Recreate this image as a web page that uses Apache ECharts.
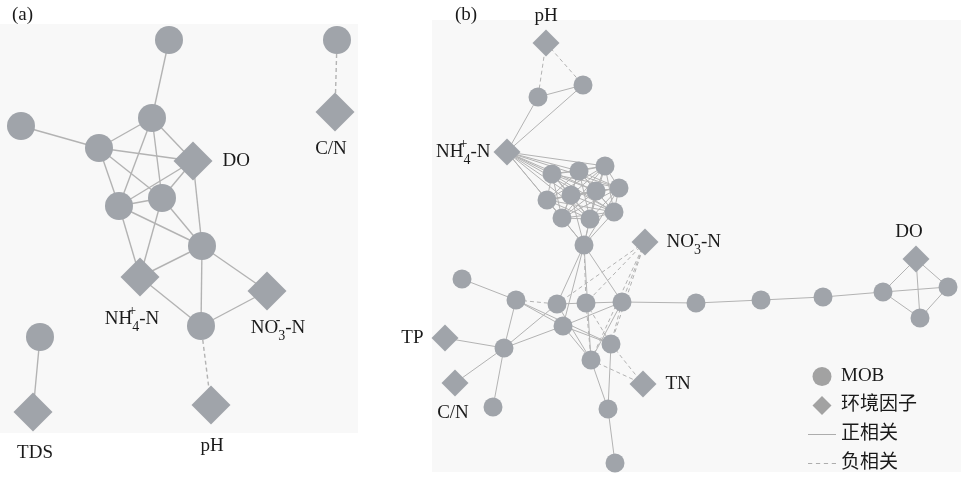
<!DOCTYPE html>
<html>
<head>
<meta charset="utf-8">
<script src="https://cdn.jsdelivr.net/npm/echarts@6/dist/echarts.min.js"></script>
<style>html,body{margin:0;padding:0;background:#fff}#c{width:961px;height:478px}</style>
</head>
<body>
<div id="c"></div>
<script>
// ---------- DATA ----------
// Panel (a) nodes: [name, x, y, kind]
const nodesA = [
  ['a1',169,40,'mob'],['a2',152,118,'mob'],['a3',21,126,'mob'],['a4',99,148,'mob'],
  ['DO',193,161,'env'],['a5',119,206,'mob'],['a6',162,198,'mob'],['a7',202,246,'mob'],
  ['NH4+-N',140,277,'env'],['NO3--N',267,291,'env'],['a8',201,326,'mob'],['pH',211,405,'env'],
  ['a9',40,337,'mob'],['TDS',33,412,'env'],['a10',337,40,'mob'],['C/N',335,112,'env']
];
// Panel (a) links: [source, target, sign]  (1 positive, -1 negative)
const linksA = [
  ['a1','a2',1],['a3','a4',1],['a4','a2',1],['a4','DO',1],['a4','a5',1],['a4','a6',1],
  ['a2','DO',1],['a2','a5',1],['a2','a6',1],['DO','a5',1],['DO','a6',1],['DO','a7',1],
  ['a5','a6',1],['a5','a7',1],['a6','a7',1],['a5','NH4+-N',1],['a6','NH4+-N',1],
  ['a7','NH4+-N',1],['a7','NO3--N',1],['a7','a8',1],['NH4+-N','a8',1],['NO3--N','a8',1],
  ['a8','pH',-1],['a9','TDS',1],['a10','C/N',-1]
];
// Panel (b) nodes
const nodesB = [
  ['pH',546,43,'env'],['b1',538,97,'mob'],['b2',583,85,'mob'],['NH4+-N',507,152,'env'],
  ['c1',552,174,'mob'],['c2',579,171,'mob'],['c3',605,166,'mob'],['c4',619,188,'mob'],
  ['c5',596,191,'mob'],['c6',571,195,'mob'],['c7',547,200,'mob'],['c8',562,218,'mob'],
  ['c9',590,219,'mob'],['c10',614,212,'mob'],['c11',584,245,'mob'],['NO3--N',645,242,'env'],
  ['d1',462,279,'mob'],['d2',516,300,'mob'],['d3',557,304,'mob'],['d4',586,303,'mob'],
  ['d5',622,302,'mob'],['d6',696,303,'mob'],['d7',563,326,'mob'],['TP',445,338,'env'],
  ['d8',504,348,'mob'],['d9',611,344,'mob'],['d10',591,360,'mob'],['C/N',455,383,'env'],
  ['TN',643,384,'env'],['d11',493,407,'mob'],['d12',608,409,'mob'],['d13',615,463,'mob'],
  ['e1',761,300,'mob'],['e2',823,297,'mob'],['e3',883,292,'mob'],['DO',916,259,'env'],
  ['e4',948,287,'mob'],['e5',920,318,'mob']
];
const clusterB = ['c1','c2','c3','c4','c5','c6','c7','c8','c9','c10'];
const linksB = [
  ['pH','b1',-1],['pH','b2',-1],['b1','b2',1],['b1','NH4+-N',1],['b2','NH4+-N',1],
  ['c11','c4',1],['c11','c5',1],['c11','c6',1],['c11','c7',1],['c11','c8',1],['c11','c9',1],['c11','c10',1],
  ['c11','d3',1],['c11','d7',1],['c11','d4',-1],['c11','d5',1],['c11','d10',1],
  ['NO3--N','d3',-1],['NO3--N','d4',-1],['NO3--N','d5',-1],['NO3--N','d9',-1],['NO3--N','d10',-1],
  ['d1','d2',1],['d2','d3',-1],['d2','d7',1],['d2','d8',1],['d2','d9',1],
  ['d3','d4',1],['d4','d5',1],['d3','d8',1],['d3','d10',1],['d7','d8',1],['d7','d5',1],
  ['d7','d10',1],['d7','d9',1],['d4','d9',-1],['d4','d10',-1],['d5','d10',1],['d5','d9',-1],
  ['d9','TN',-1],['d10','TN',-1],['d10','d12',1],['d9','d12',1],['d12','d13',1],
  ['d5','d6',1],['d6','e1',1],['e1','e2',1],['e2','e3',1],['e3','e4',1],['e3','DO',1],
  ['e3','e5',1],['DO','e4',1],['DO','e5',1],['e4','e5',1],
  ['d8','d11',1],['d8','TP',1],['d8','C/N',1]
];
// NH4 links to every cluster node, cluster fully connected
clusterB.forEach(c => linksB.push(['NH4+-N', c, 1]));
for (let i = 0; i < clusterB.length; i++)
  for (let j = i + 1; j < clusterB.length; j++) linksB.push([clusterB[i], clusterB[j], 1]);

const legendNames = ['MOB', '环境因子', '正相关', '负相关'];

// ---------- STYLE ----------
const NODE = '#a0a4aa', EDGE = '#b3b3b3', SERIF = '"Liberation Serif","Times New Roman",serif';
const labelA = {
  'DO': {position:'right', distance:10, offset:[0,0]},
  'NH4+-N': {position:'bottom', distance:8, offset:[-8,0]},
  'NO3--N': {position:'bottom', distance:3, offset:[11,0]},
  'pH': {position:'bottom', distance:11, offset:[1,0]},
  'TDS': {position:'bottom', distance:11, offset:[2,0]},
  'C/N': {position:'bottom', distance:7, offset:[-4,0]}
};
const labelB = {
  'pH': {position:'top', distance:2, offset:[0,0]},
  'NH4+-N': {position:'left', distance:3, offset:[0,0]},
  'NO3--N': {position:'right', distance:8, offset:[0,0]},
  'TP': {position:'left', distance:8, offset:[0,0]},
  'C/N': {position:'bottom', distance:6, offset:[-2,0]},
  'TN': {position:'right', distance:9, offset:[0,0]},
  'DO': {position:'top', distance:2, offset:[-7,0]}
};
const rich = {
  t: {fontSize:19, fontFamily:SERIF, color:'#1a1a1a', lineHeight:22, verticalAlign:'middle'},
  t2: {fontSize:19, fontFamily:SERIF, color:'#1a1a1a', lineHeight:30, verticalAlign:'middle'},
  sup: {fontSize:14, fontFamily:SERIF, color:'#1a1a1a', lineHeight:14, verticalAlign:'top', width:0, align:'left'},
  sub: {fontSize:14, fontFamily:SERIF, color:'#1a1a1a', lineHeight:14, verticalAlign:'bottom', align:'left'}
};
function fmt(name) {
  if (name === 'NH4+-N') return '{t2|NH}{sup|+}{sub|4}{t2|-N}';
  if (name === 'NO3--N') return '{t2|NO}{sup|-}{sub|3}{t2|-N}';
  return '{t|' + name + '}';
}
function buildSeries(nodes, links, labels, idx, circ, dia, lw) {
  return {
    type:'graph', coordinateSystem:'cartesian2d', xAxisIndex:idx, yAxisIndex:idx,
    silent:true, animation:false,
    data: nodes.map(n => {
      const env = n[3] === 'env';
      const item = {
        name:n[0], value:[n[1], n[2]],
        symbol: env ? 'diamond' : 'circle',
        symbolSize: env ? dia : circ,
        itemStyle:{color:NODE}
      };
      if (env) {
        const l = labels[n[0]];
        item.label = {show:true, position:l.position, distance:l.distance, offset:l.offset,
          formatter: () => fmt(n[0]), rich: rich};
      } else item.label = {show:false};
      return item;
    }),
    links: links.map(l => ({source:l[0], target:l[1],
      lineStyle:{color:EDGE, width:lw, type: l[2] < 0 ? [4,3] : 'solid', opacity:1}})),
    lineStyle:{color:EDGE, width:lw, curveness:0},
    z: 3
  };
}
const ICON_DIAMOND = 'path://M5,0 L10,5 L5,10 L0,5 Z';
const ICON_SOLID = 'path://M0,0 H27 V1 H0 Z';
const ICON_DASH = 'path://M0,0 H4 V1 H0 Z M7.5,0 H11.5 V1 H7.5 Z M15,0 H19 V1 H15 Z M22.5,0 H26.5 V1 H22.5 Z';

const chart = echarts.init(document.getElementById('c'));
chart.setOption({
  animation:false,
  backgroundColor:'#ffffff',
  title:[
    {text:'(a)', left:12, top:6, padding:0, textStyle:{fontFamily:SERIF, fontSize:19, fontWeight:'normal', color:'#1a1a1a'}},
    {text:'(b)', left:455, top:6, padding:0, textStyle:{fontFamily:SERIF, fontSize:19, fontWeight:'normal', color:'#1a1a1a'}}
  ],
  grid:[
    {left:0, top:24, width:358, height:409, show:true, backgroundColor:'#f8f8f8', borderWidth:0},
    {left:432, top:20, width:529, height:452, show:true, backgroundColor:'#f8f8f8', borderWidth:0}
  ],
  xAxis:[
    {gridIndex:0, type:'value', min:0, max:358, show:false},
    {gridIndex:1, type:'value', min:432, max:961, show:false}
  ],
  yAxis:[
    {gridIndex:0, type:'value', min:24, max:433, inverse:true, show:false},
    {gridIndex:1, type:'value', min:20, max:472, inverse:true, show:false}
  ],
  legend:{
    orient:'vertical', left:803, top:362, width:150, height:150, itemWidth:28, itemHeight:19, itemGap:10,
    selectedMode:false, symbolKeepAspect:true,
    textStyle:{fontSize:19, fontFamily:'"Liberation Serif","Noto Sans CJK SC",serif', color:'#1a1a1a'},
    data:[
      {name:legendNames[0], icon:'circle'},
      {name:legendNames[1], icon:ICON_DIAMOND},
      {name:legendNames[2], icon:ICON_SOLID},
      {name:legendNames[3], icon:ICON_DASH}
    ]
  },
  series:[
    buildSeries(nodesA, linksA, labelA, 0, 28, 39, 1.4),
    buildSeries(nodesB, linksB, labelB, 1, 19, 27, 1),
    {name:legendNames[0], type:'scatter', data:[], itemStyle:{color:'#8c8c8c'}},
    {name:legendNames[1], type:'scatter', data:[], itemStyle:{color:'#8c8c8c'}},
    {name:legendNames[2], type:'scatter', data:[], itemStyle:{color:'#9a9a9a'}},
    {name:legendNames[3], type:'scatter', data:[], itemStyle:{color:'#9a9a9a'}}
  ]
});
</script>
</body>
</html>
